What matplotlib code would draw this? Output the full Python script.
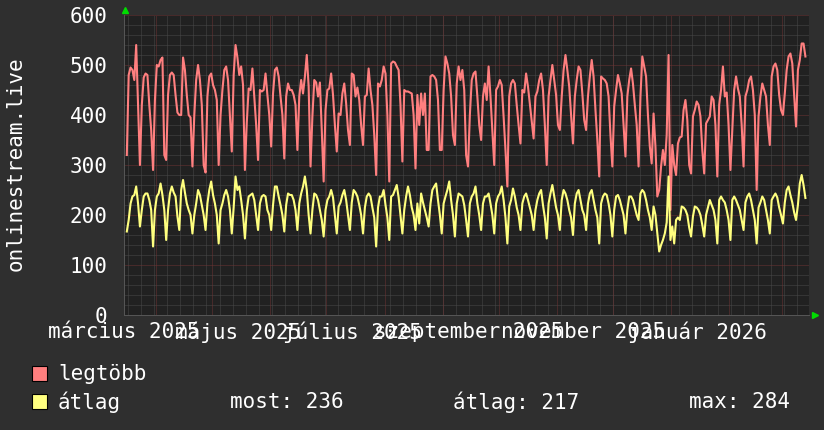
import numpy as np
import matplotlib
matplotlib.use('Agg')
import matplotlib.pyplot as plt
from matplotlib.patches import Rectangle

# daily values starting Sunday 2025-03-16, one row per week (Sun..Sat)
legtobb = [
    320, 480, 495, 490, 470, 540, 420,
    300, 420, 475, 483, 480, 420, 370,
    290, 430, 500, 497, 510, 515, 320,
    310, 440, 480, 485, 480, 440, 405,
    400, 400, 515, 490, 440, 400, 395,
    297, 400, 470, 500, 470, 420, 300,
    285, 437, 477, 483, 460, 450, 430,
    300, 400, 450, 490, 497, 470, 400,
    327, 480, 540, 515, 480, 497, 460,
    290, 385, 453, 450, 493, 437, 380,
    310, 450, 447, 450, 483, 440, 400,
    337, 443, 490, 495, 477, 437, 400,
    313, 437, 463, 450, 450, 440, 420,
    330, 437, 470, 443, 477, 520, 457,
    297, 397, 470, 465, 437, 465, 370,
    267, 410, 450, 453, 483, 440, 380,
    327, 403, 400, 443, 463, 423, 370,
    340, 483, 480, 437, 455, 430, 380,
    340, 437, 440, 493, 450, 420, 360,
    280, 463, 457, 470, 497, 483, 400,
    267, 503, 507, 505, 497, 490, 420,
    307, 450, 447, 447, 445, 443, 400,
    293, 440, 380, 443, 400, 443, 330,
    330, 477, 480, 477, 470, 430, 330,
    330, 450, 517, 503, 483, 437, 360,
    340, 463, 497, 470, 490, 450, 320,
    297, 400, 470, 483, 487, 437, 380,
    350, 437, 463, 430, 497, 437, 370,
    300, 450, 457, 470, 460, 397, 330,
    257, 437, 463, 470, 463, 420, 380,
    343, 450, 445, 483, 457, 423, 390,
    353, 437, 447, 470, 483, 450, 380,
    300, 437, 470, 500, 470, 440, 380,
    370, 437, 490, 520, 490, 457, 400,
    343, 437, 470, 497, 490, 443, 390,
    370, 437, 477, 510, 477, 410, 350,
    277, 477, 473, 470, 463, 437, 360,
    297, 417, 450, 480, 463, 443, 380,
    317, 437, 470, 493, 463, 420, 380,
    297, 437, 517, 497, 477, 400, 337,
    303, 403, 337, 237, 250, 297, 330,
    300, 360, 520, 210, 340, 300, 280,
    343, 355, 357, 410, 430, 390, 300,
    283, 397, 410, 427, 420, 397, 330,
    283, 383, 390, 397, 437, 430, 380,
    277, 420, 450, 497, 437, 445, 380,
    290, 370, 450, 477, 453, 437, 380,
    297, 437, 450, 470, 477, 450, 400,
    250, 397, 437, 463, 450, 437, 380,
    340, 477, 497, 503, 490, 440, 410,
    400, 443, 490, 517, 523, 503, 440,
    377, 490, 510, 543, 543, 517,
]

atlag = [
    167, 190, 223, 237, 240, 257, 223,
    177, 210, 237, 243, 243, 230, 210,
    137, 210, 237, 243, 263, 240, 210,
    150, 210, 243, 257, 245, 237, 197,
    170, 250, 270, 245, 223, 210, 200,
    163, 200, 223, 250, 240, 220, 200,
    170, 223, 250, 267, 240, 223, 200,
    143, 210, 223, 240, 250, 237, 210,
    163, 215, 277, 250, 257, 230, 200,
    153, 210, 237, 240, 243, 230, 200,
    170, 223, 237, 240, 237, 210, 200,
    170, 220, 257, 257, 237, 220, 200,
    167, 220, 243, 240, 240, 230, 210,
    170, 223, 243, 257, 277, 250, 200,
    163, 210, 243, 240, 230, 210, 190,
    157, 210, 230, 237, 250, 235, 200,
    163, 217, 225, 240, 250, 230, 200,
    170, 225, 250, 245, 237, 220, 200,
    163, 215, 237, 243, 237, 215, 195,
    137, 215, 237, 237, 250, 220, 195,
    150, 237, 240, 250, 260, 235, 200,
    163, 210, 237, 257, 240, 215, 200,
    170, 223, 183, 243, 225, 210, 195,
    177, 223, 250, 257, 263, 230, 200,
    163, 223, 237, 250, 267, 230, 200,
    157, 223, 243, 240, 237, 220, 190,
    157, 223, 237, 243, 257, 223, 200,
    170, 223, 237, 237, 243, 223, 200,
    163, 223, 237, 243, 257, 230, 195,
    143, 217, 230, 253, 237, 215, 200,
    170, 223, 237, 243, 230, 215, 200,
    170, 210, 230, 243, 250, 220, 195,
    153, 223, 243, 260, 237, 215, 200,
    170, 230, 250, 243, 230, 210, 195,
    160, 223, 243, 250, 230, 210, 200,
    170, 223, 243, 250, 230, 210, 195,
    143, 223, 237, 243, 240, 223, 200,
    157, 210, 237, 240, 230, 215, 200,
    163, 210, 237, 237, 230, 215, 200,
    190, 243, 250, 245, 230, 210, 195,
    170, 217, 200, 163, 127, 140, 150,
    163, 185, 277, 150, 177, 143, 190,
    195, 190, 217, 215, 210, 200, 175,
    157, 197, 217, 215, 210, 200, 180,
    157, 200, 215, 230, 220, 210, 190,
    143, 230, 237, 230, 225, 210, 190,
    150, 230, 237, 230, 220, 210, 190,
    170, 225, 237, 243, 230, 210, 190,
    143, 215, 225, 237, 230, 210, 190,
    163, 230, 237, 243, 235, 215, 200,
    183, 225, 250, 257, 240, 225, 205,
    190, 220, 263, 280, 260, 234,
]

honap_cimkek = ['március 2025', 'május 2025', 'július 2025',
                'szeptember 2025', 'november 2025', 'január 2026']
honap_helyek = ['2025-03-15', '2025-05-15', '2025-07-15',
                '2025-09-15', '2025-11-15', '2026-01-15']
most, atl, maxi = 236, 217, 284

plt.rcParams['font.family'] = 'DejaVu Sans Mono'

bg = '#2f2f2f'
canvas = '#212121'
minor_c = '#4a4a4a'
major_c = '#6e3434'
red = '#ff7f7f'
yellow = '#ffff7f'

fig = plt.figure(figsize=(8.24, 4.30), dpi=100, facecolor=bg)
W, H = 824, 430
ax = fig.add_axes([124 / W, 115 / H, 685 / W, 300 / H])
ax.set_facecolor(canvas)

start = np.datetime64('2025-03-16T12:00')
days = start + np.arange(len(legtobb)) * np.timedelta64(1, 'D')

x0 = np.datetime64('2025-03-15T12:00')
x1 = np.datetime64('2026-03-15T10:00')

dot = (0, (1, 1))
# minor grid
for y in range(20, 600, 20):
    if y % 100:
        ax.axhline(y, color=minor_c, lw=0.72, ls=dot, zorder=1)
mondays = np.arange(np.datetime64('2025-03-17'), np.datetime64('2026-03-16'), 7)
for d in mondays:
    ax.axvline(d, color=minor_c, lw=0.72, ls=dot, zorder=1)
# major grid
for y in range(100, 601, 100):
    ax.axhline(y, color=major_c, lw=0.72, ls=dot, zorder=2)
months = np.arange(np.datetime64('2025-04'), np.datetime64('2026-04'),
                   dtype='datetime64[M]').astype('datetime64[D]')
for d in months:
    ax.axvline(d, color=major_c, lw=0.72, ls=dot, zorder=2)

ax.plot(days, legtobb, color=red, lw=1.5, zorder=5)
ax.plot(days, atlag, color=yellow, lw=1.5, zorder=6)

ax.set_xlim(x0, x1)
ax.set_ylim(0, 600)
ax.set_xticks([np.datetime64(d) for d in honap_helyek])
ax.set_xticklabels(honap_cimkek)
ax.set_yticks(range(0, 601, 100))
ax.tick_params(axis='x', length=0, pad=5, labelsize=15, colors='white')
ax.tick_params(axis='y', length=0, pad=12, labelsize=15, colors='white')
for s in ['top', 'right']:
    ax.spines[s].set_visible(False)
for s in ['left', 'bottom']:
    ax.spines[s].set_color('#555555')
    ax.spines[s].set_linewidth(0.72)

fig.text(16 / W, 1 - 164 / H, 'onlinestream.live', rotation=90,
         ha='center', va='center', color='white', fontsize=15)

# axis arrows
ax.plot([125 / W], [1 - 10 / H], marker='^', color='#00dd00', ms=5,
        transform=fig.transFigure, clip_on=False)
ax.plot([815 / W], [1 - 315 / H], marker='>', color='#00dd00', ms=5,
        transform=fig.transFigure, clip_on=False)

# legend
fig.add_artist(Rectangle((32 / W, 1 - 381 / H), 15 / W, 15 / H,
                         transform=fig.transFigure, facecolor=red,
                         edgecolor='black', lw=0.8))
fig.add_artist(Rectangle((32 / W, 1 - 409 / H), 15 / W, 15 / H,
                         transform=fig.transFigure, facecolor=yellow,
                         edgecolor='black', lw=0.8))
fig.text(58 / W, 1 - 374 / H, 'legtöbb', color='white', fontsize=15, va='center')
fig.text(58 / W, 1 - 402 / H, 'átlag', color='white', fontsize=15, va='center')
fig.text(230 / W, 1 - 402 / H, f'most: {most}', color='white', fontsize=15, va='center')
fig.text(453 / W, 1 - 402 / H, f'átlag: {atl}', color='white', fontsize=15, va='center')
fig.text(689 / W, 1 - 402 / H, f'max: {maxi}', color='white', fontsize=15, va='center')

fig.savefig('out.png', dpi=100, facecolor=bg)
